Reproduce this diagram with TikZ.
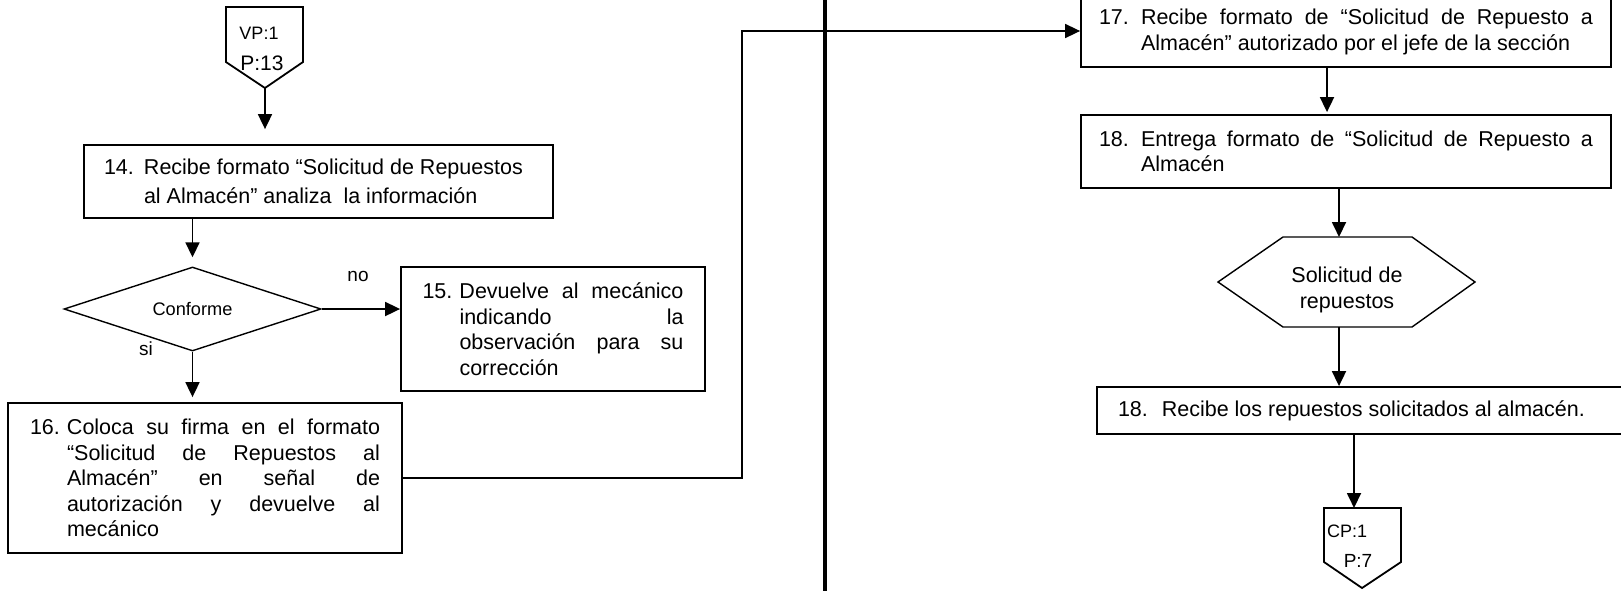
\documentclass[tikz,border=0pt]{standalone}
\usepackage{fontspec}
\setmainfont{Liberation Sans}
\usetikzlibrary{arrows.meta,shapes.geometric,calc}

\newcommand{\boxfont}{\fontsize{21.5}{25.5}\selectfont}
% numbered paragraph: number in a fixed-width box, text hanging beside it
\newcommand{\numpar}[4]{\makebox[#1][l]{#2}\parbox[t]{#3}{#4}}

\begin{document}
\begin{tikzpicture}[x=1pt,y=-1pt,
  procbox/.style={draw, line width=1.8pt, rectangle, inner ysep=0pt,
                  font=\boxfont},
  arr/.style={line width=1.8pt, -{Triangle[length=15pt,width=14pt]}},
  elbow/.style={line width=1.6pt, -{Triangle[length=15pt,width=14pt]}},
  thinshape/.style={draw, line width=1.4pt},
  offpage/.style={draw, line width=1.8pt, line join=miter},
  lbl/.style={inner sep=0pt, font=\fontsize{19}{22}\selectfont},
  divider/.style={line width=4.3pt}
]
\useasboundingbox (0,0) rectangle (1621,590);

% ---- left lane -------------------------------------------------------
% off-page connector VP:1 / P:13
\draw[offpage] (226,7) -- (303,7) -- (303,62) -- (265,88) -- (226,62) -- cycle;
\coordinate (vptip) at (265,88);
\node[inner sep=0pt, font=\fontsize{18}{20}\selectfont] (vpa) at (259,33) {VP:1};
\node[inner sep=0pt, font=\fontsize{21}{23}\selectfont] (vpb) at (262,63) {P:13};

% step 14
\node[procbox, minimum width=469pt, minimum height=73pt, inner xsep=20pt,
      font=\fontsize{21.5}{29}\selectfont] (b14) at (318.5,181.5)
  {\numpar{40pt}{14.}{389pt}{\raggedright Recibe formato “Solicitud de Repuestos\\al Almacén” analiza~ la información}};

% decision
\node[draw, diamond, line width=1.4pt, minimum width=257pt, minimum height=84pt,
      aspect=3.06, inner sep=0pt, font=\fontsize{18.2}{20}\selectfont] (dia) at (192.5,309) {Conforme};
\node[lbl] (no) at (358,276) {no};
\node[lbl] (si) at (146,349) {si};

% step 15
\node[procbox, minimum width=304pt, minimum height=124pt, inner xsep=21.5pt] (b15) at (553,329)
  {\numpar{37pt}{15.}{224pt}{Devuelve al mecánico\linebreak indicando la\linebreak observación para su\linebreak corrección}};

% step 16
\node[procbox, minimum width=394pt, minimum height=150pt, inner xsep=22pt] (b16) at (205,478)
  {\numpar{37pt}{16.}{313pt}{Coloca su firma en el formato\linebreak “Solicitud de Repuestos al\linebreak Almacén” en señal de\linebreak autorización y devuelve al\linebreak mecánico}};

% ---- lane divider ----------------------------------------------------
\coordinate (divtop) at (825,-5);
\coordinate (divbot) at (825,595);
\draw[divider] (divtop) -- (divbot);

% ---- right lane ------------------------------------------------------
% step 17
\node[procbox, minimum width=530pt, minimum height=70pt, inner xsep=18pt] (b17) at (1346,32)
  {\numpar{42pt}{17.}{452pt}{Recibe formato de “Solicitud de Repuesto a\linebreak Almacén” autorizado por el jefe de la sección}};

% step 18 (delivery)
\node[procbox, minimum width=530pt, minimum height=73pt, inner xsep=18pt] (b18) at (1346,151.5)
  {\numpar{42pt}{18.}{452pt}{Entrega formato de “Solicitud de Repuesto a\linebreak Almacén}};

% document: spare-part request
\draw[thinshape] (1218,282) -- (1283,237) -- (1412,237) -- (1475,282)
                 -- (1412,327) -- (1283,327) -- cycle;
\coordinate (hexN) at (1339,237);
\coordinate (hexS) at (1339,327);
\node[inner sep=0pt, align=center, font=\fontsize{21.5}{26}\selectfont] (hex) at (1347,290)
  {Solicitud de\\repuestos};

% step 18 (reception)
\node[procbox, minimum width=535pt, minimum height=47pt, inner xsep=21pt] (b19) at (1364.5,410.5)
  {\makebox[493pt][l]{18.~ Recibe los repuestos solicitados al almacén.}};

% off-page connector CP:1 / P:7
\draw[offpage] (1324,508) -- (1401,508) -- (1401,562) -- (1362,588) -- (1324,562) -- cycle;
\coordinate (cptop) at (1354,508);
\node[inner sep=0pt, anchor=west, font=\fontsize{18}{20}\selectfont] (cpa) at (1327,531) {CP:1};
\node[inner sep=0pt, font=\fontsize{19}{22}\selectfont] (cpb) at (1358,561) {P:7};

% ---- connectors ------------------------------------------------------
\draw[arr, shorten >=15pt] (vptip) -- (vptip |- b14.north);
\draw[arr, shorten >=9pt] (dia.north |- b14.south) -- (dia.north);
\draw[arr] (dia.east) -- (dia.east -| b15.west);
\draw[arr, shorten >=5pt] (dia.south) -- (dia.south |- b16.north);

\coordinate (elb) at (742,31);
\draw[elbow] (b16.east) -| (elb) -- (elb -| b17.west);

\draw[arr, shorten >=2pt] ([xshift=-19pt]b17.south) -- ([xshift=-19pt]b17.south |- b18.north);
\draw[arr] (b18.south -| hexN) -- (hexN);
\draw[arr] (hexS) -- (hexS |- b19.north);
\draw[arr] (b19.south -| cptop) -- (cptop);
\end{tikzpicture}
\end{document}
